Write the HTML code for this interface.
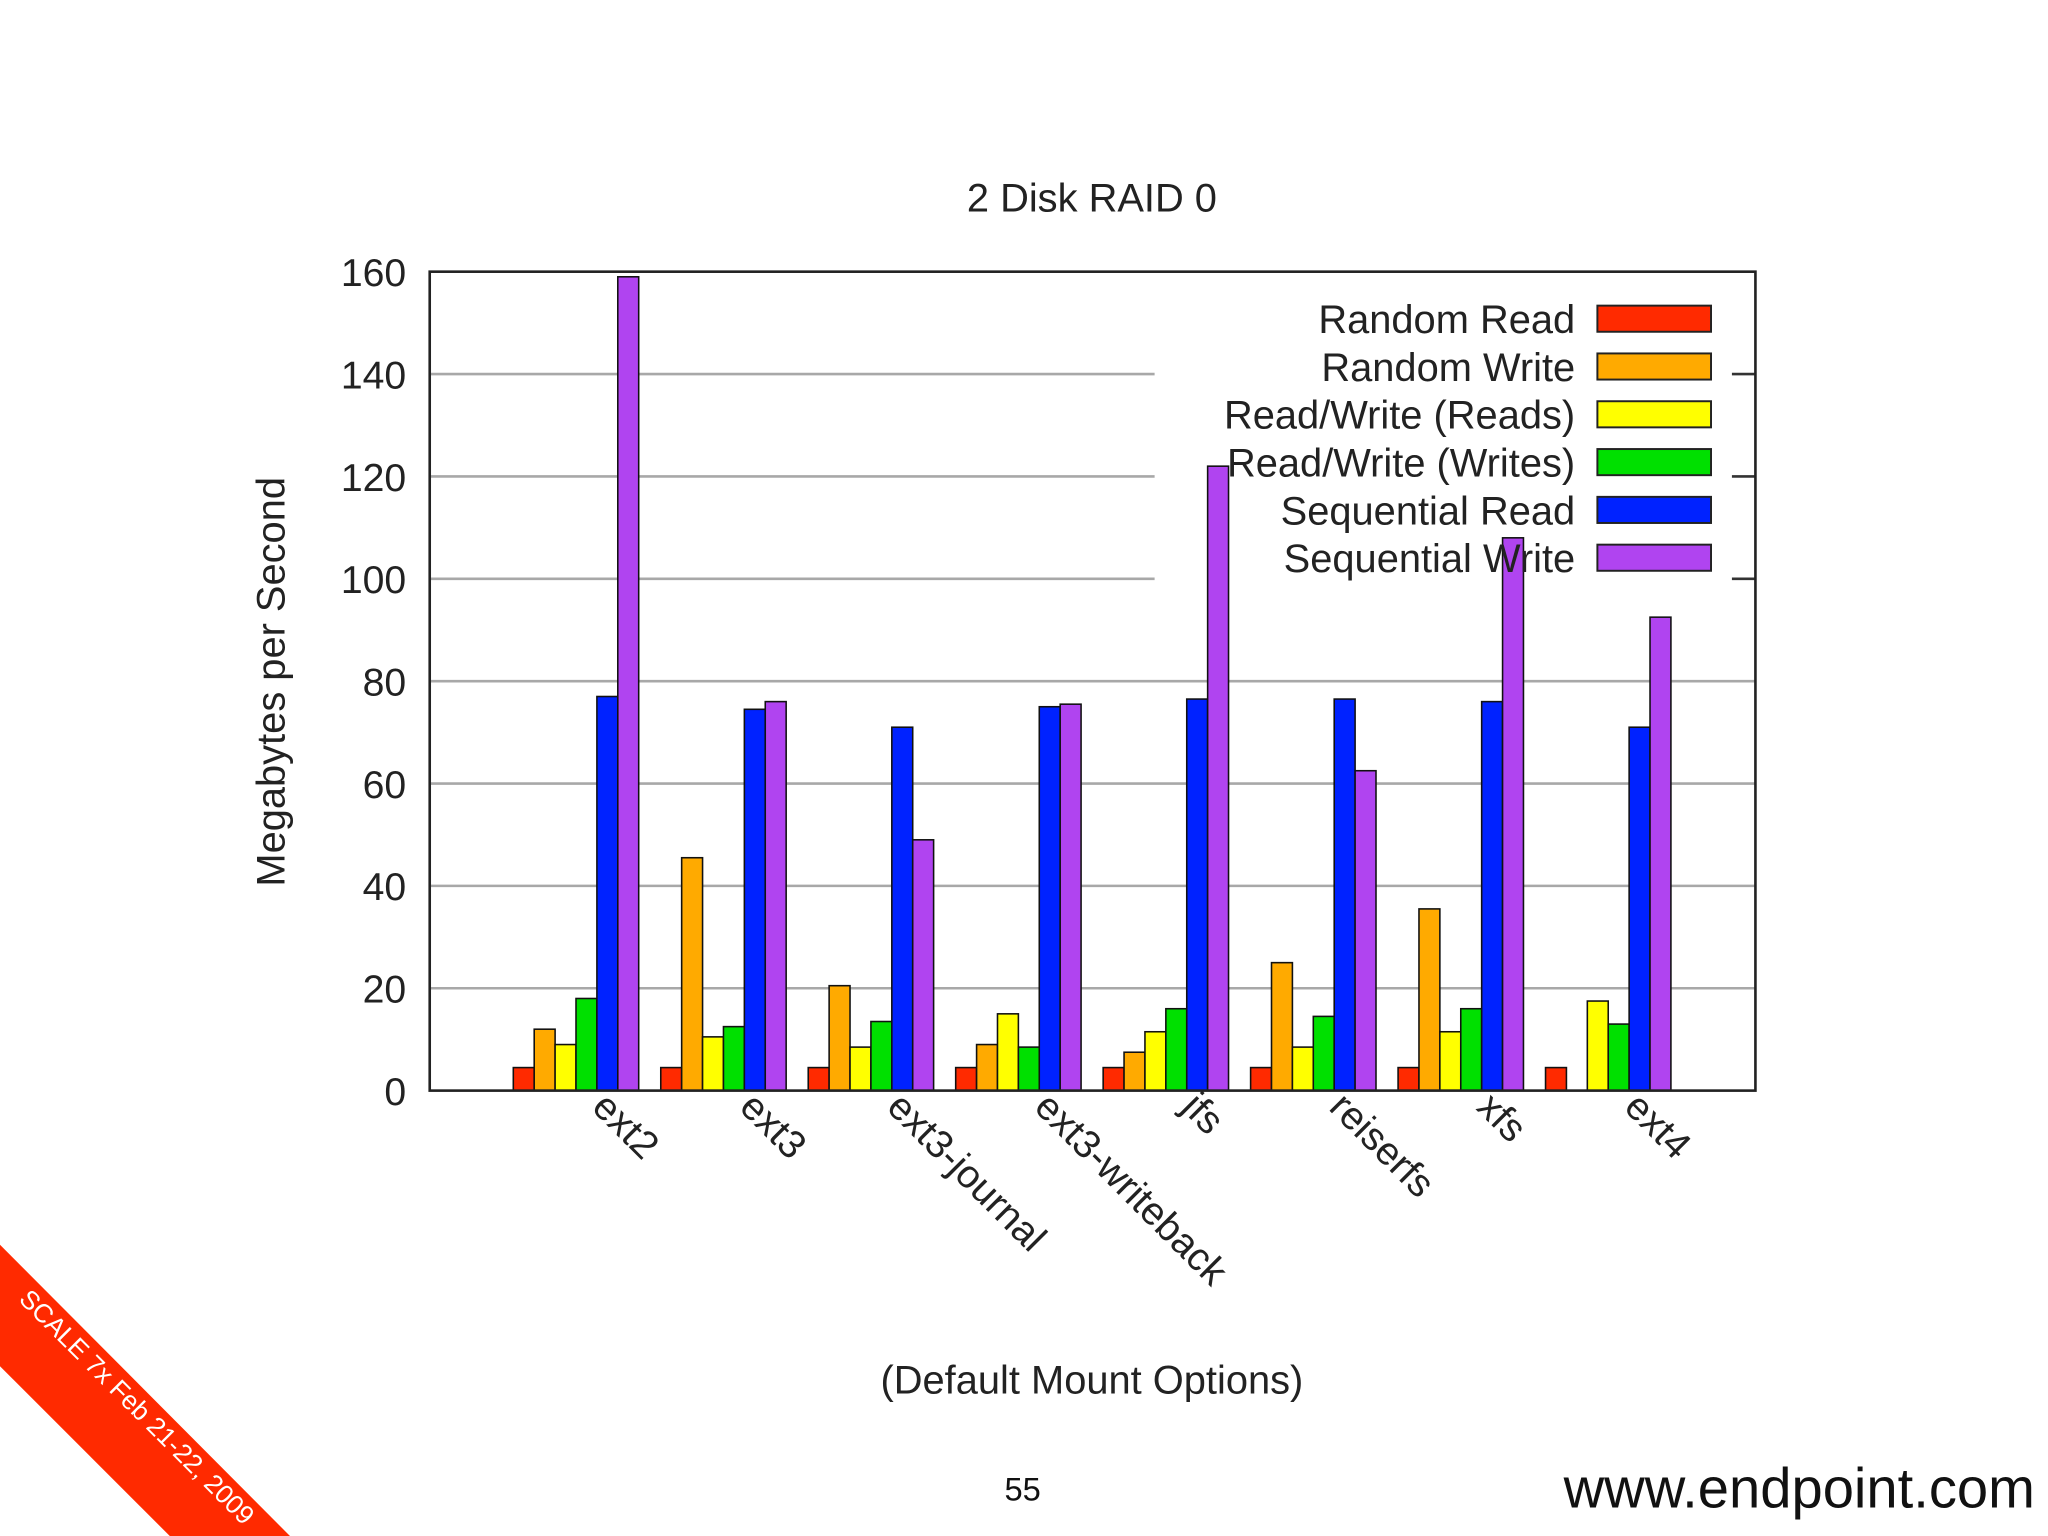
<!DOCTYPE html>
<html><head><meta charset="utf-8"><style>
html,body{margin:0;padding:0;background:#fff;}
svg{display:block;font-family:"Liberation Sans",sans-serif;}
</style></head><body>
<svg id="chart" width="2048" height="1536" viewBox="0 0 1568 1176" xmlns="http://www.w3.org/2000/svg">
<rect width="1568" height="1176" fill="#fff"/>
<g id="grid"></g>
<g id="bars"></g>
<rect x="329" y="208" width="1015" height="627" fill="none" stroke="#222" stroke-width="2"/>
<g id="yticks"></g>
<g id="xlabels"></g>
<g id="legend"></g>
<text x="836" y="162" font-size="30.5" text-anchor="middle" fill="#222">2 Disk RAID 0</text>
<text transform="translate(218,522) rotate(-90)" font-size="30.5" text-anchor="middle" fill="#222">Megabytes per Second</text>
<text x="836" y="1067" font-size="30.5" text-anchor="middle" fill="#222">(Default Mount Options)</text>
<text x="783" y="1149" font-size="25" text-anchor="middle" fill="#111">55</text>
<text x="1558" y="1154" font-size="43" text-anchor="end" fill="#111">www.endpoint.com</text>
<polygon points="0,953 222,1176 130,1176 0,1046" fill="#ff2a00"/>
<text transform="translate(100,1082) rotate(45)" font-size="20" text-anchor="middle" fill="#fff">SCALE 7x Feb 21-22, 2009</text>
</svg>
<script>
const categories = ["ext2","ext3","ext3-journal","ext3-writeback","jfs","reiserfs","xfs","ext4"];
const seriesNames = ["Random Read","Random Write","Read/Write (Reads)","Read/Write (Writes)","Sequential Read","Sequential Write"];
const randomRead = [4.5,4.5,4.5,4.5,4.5,4.5,4.5,4.5];
const randomWrite = [12,45.5,20.5,9,7.5,25,35.5,0];
const rwReads = [9,10.5,8.5,15,11.5,8.5,11.5,17.5];
const rwWrites = [18,12.5,13.5,8.5,16,14.5,16,13];
const seqRead = [77,74.5,71,75,76.5,76.5,76,71];
const seqWrite = [159,76,49,75.5,122,62.5,108,92.5];
const yTicks = [0,20,40,60,80,100,120,140,160];

const NS="http://www.w3.org/2000/svg";
const series=[randomRead,randomWrite,rwReads,rwWrites,seqRead,seqWrite];
const colors=["#ff2a00","#ffaa00","#ffff00","#00e000","#0022ff","#b044f0"];
const yScale=v=>835-v*(627/160);
const xScale=i=>441+112.9*i;
const barW=16;
function mk(tag,attrs,parent){const e=document.createElementNS(NS,tag);for(const k in attrs)e.setAttribute(k,attrs[k]);parent.appendChild(e);return e;}
const grid=document.getElementById('grid'),yt=document.getElementById('yticks');
yTicks.forEach(t=>{
  const y=yScale(t);
  if(t>0&&t<160){
    const x2=(t>=100)?884:1344;
    const l=mk('line',{x1:329,x2:x2,y1:y,y2:y,stroke:'#a8a8a8','stroke-width':2},grid);
    
    
    if(t>=100){
      const r=mk('line',{x1:1326,x2:1344,y1:y,y2:y,stroke:'#333','stroke-width':2},grid);
      
      
    }
  }
  const tx=mk('text',{x:311,y:y+11,'font-size':30,'text-anchor':'end',fill:'#222'},yt);
  tx.textContent=t;
  
  
});
const bars=document.getElementById('bars');
categories.forEach((c,i)=>{
  series.forEach((s,j)=>{
    const v=s[i]; if(v<=0)return;
    const x=xScale(i)+(j-3)*barW;
    const r=mk('rect',{x:x,y:yScale(v),width:barW,height:yScale(0)-yScale(v),fill:colors[j],stroke:'#111','stroke-width':1.2},bars);
    
    
  });
});
const xl=document.getElementById('xlabels');
categories.forEach((c,i)=>{
  const x=xScale(i)+11;
  const t=mk('text',{transform:`translate(${x},849) rotate(45)`,'font-size':30,fill:'#222'},xl);
  t.textContent=c;
  
  
});
const lg=document.getElementById('legend');
seriesNames.forEach((n,j)=>{
  const y=244+j*36.6;
  const t=mk('text',{x:1206,y:y+11,'font-size':30.5,'text-anchor':'end',fill:'#222'},lg);
  t.textContent=n;
  
  
  const r=mk('rect',{x:1223,y:y-10,width:87,height:20,fill:colors[j],stroke:'#222','stroke-width':1.5},lg);
  
  
});
</script>
</body></html>
